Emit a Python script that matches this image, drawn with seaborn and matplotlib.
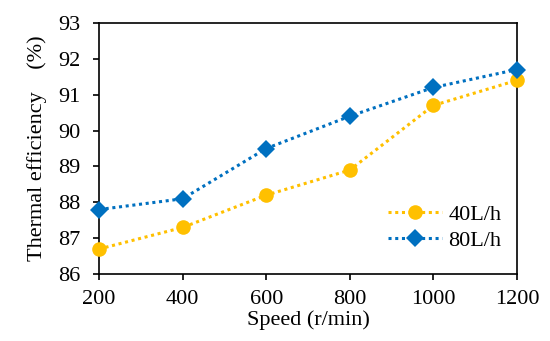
import matplotlib
matplotlib.use("Agg")
import matplotlib.pyplot as plt
import seaborn as sns
import pandas as pd

speed = [200, 400, 600, 800, 1000, 1200]
eff_40 = [86.7, 87.3, 88.2, 88.9, 90.7, 91.4]
eff_80 = [87.8, 88.1, 89.5, 90.4, 91.2, 91.7]
series_names = ["40L/h", "80L/h"]
y_ticks = [86, 87, 88, 89, 90, 91, 92, 93]

df = pd.DataFrame({
    "speed": speed * 2,
    "eff": eff_40 + eff_80,
    "flow": [series_names[0]] * len(speed) + [series_names[1]] * len(speed),
})

sns.set_style("ticks")
plt.rcParams["font.family"] = ["Liberation Serif", "DejaVu Serif"]
plt.rcParams["font.size"] = 16
plt.rcParams["text.color"] = "black"
plt.rcParams["axes.labelcolor"] = "black"

fig = plt.figure(figsize=(5.5, 3.41), dpi=100)
ax = fig.add_axes([0.18, 0.196, 0.76, 0.737])

colors = {"40L/h": "#FFC000", "80L/h": "#0070C0"}
markers = {"40L/h": "o", "80L/h": "D"}
sizes = {"40L/h": 10.5, "80L/h": 9}

for name in series_names:
    sub = df[df["flow"] == name]
    sns.lineplot(data=sub, x="speed", y="eff", ax=ax, color=colors[name],
                 marker=markers[name], markersize=sizes[name], markeredgewidth=0,
                 linestyle=(0, (1, 1.2)), linewidth=2.2, label=name, clip_on=False,
                 zorder=3)

ax.set_xlim(200, 1200)
ax.set_ylim(86, 93)
ax.set_xticks(speed)
ax.set_yticks(y_ticks)
ax.tick_params(axis="both", labelsize=16, direction="out", length=4.5, width=1.2,
               colors="black")
ax.tick_params(axis="x", pad=7)
ax.tick_params(axis="y", pad=9)
for s in ax.spines.values():
    s.set_linewidth(1.2)
    s.set_color("black")
    s.set_visible(True)

ax.set_xlabel("Speed (r/min)", fontsize=16, labelpad=1)
ax.set_ylabel("Thermal efficiency    (%)", fontsize=16, labelpad=8)

leg = ax.legend(loc="lower right", bbox_to_anchor=(1.0, 0.03), frameon=False,
                fontsize=16, handlelength=2.4, handletextpad=0.3,
                labelspacing=0.25, borderaxespad=0.3)

fig.savefig("out.png", dpi=100)
